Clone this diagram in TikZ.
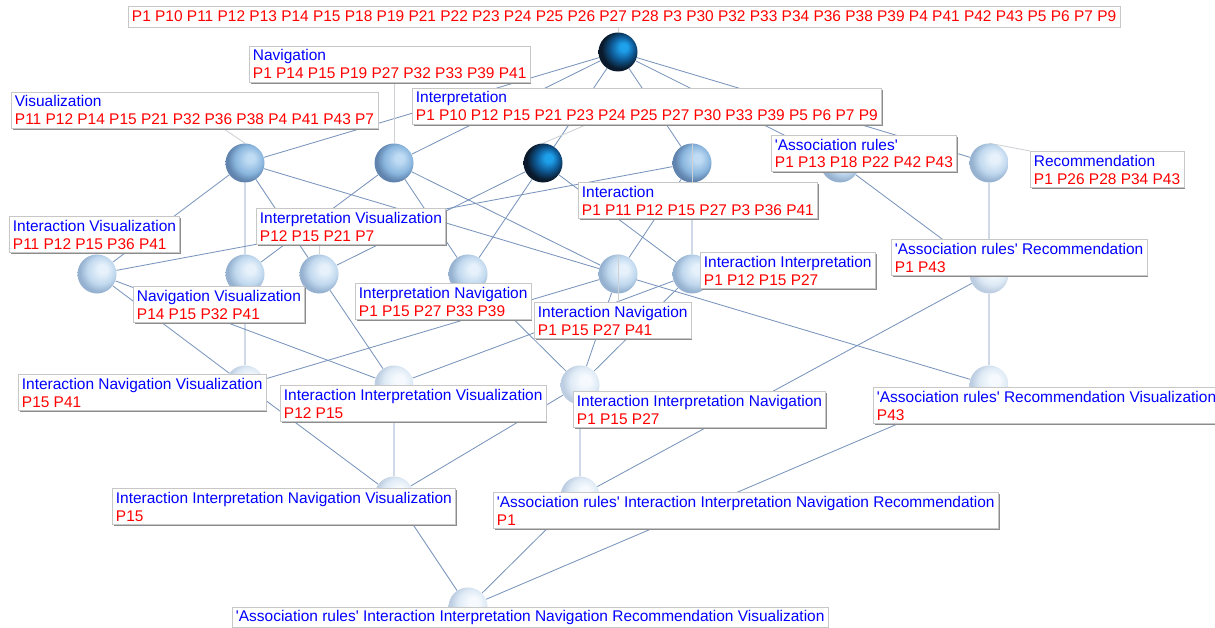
\documentclass[tikz,border=0pt]{standalone}
\usepackage{fontspec}
\setmainfont{Liberation Sans}
\usepackage{tikz}
\usetikzlibrary{positioning,calc,backgrounds,shadows}
\definecolor{attrBlue}{RGB}{0,0,255}
\definecolor{objRed}{RGB}{255,0,0}
\definecolor{coverBlue}{RGB}{120,148,188}
\definecolor{leaderGray}{RGB}{205,208,212}
\definecolor{darkHi}{RGB}{30,160,235}
\definecolor{darkBody}{RGB}{14,90,150}
\definecolor{darkRim}{RGB}{10,26,44}
\definecolor{midHi}{RGB}{192,220,244}
\definecolor{midBody}{RGB}{138,182,222}
\definecolor{midRim}{RGB}{96,132,174}
\definecolor{lightHi}{RGB}{230,241,251}
\definecolor{lightBody}{RGB}{192,216,238}
\definecolor{lightRim}{RGB}{150,178,208}
\definecolor{paleHi}{RGB}{246,250,254}
\definecolor{paleBody}{RGB}{222,234,245}
\definecolor{paleRim}{RGB}{190,206,226}
\pgfdeclareradialshading{shDark}{\pgfpoint{8bp}{7bp}}{color(0bp)=(darkHi); color(5bp)=(darkHi); color(15bp)=(darkBody); color(25bp)=(darkRim); color(50bp)=(darkRim)}
\pgfdeclareradialshading{shMid}{\pgfpoint{8bp}{7bp}}{color(0bp)=(midHi); color(5bp)=(midHi); color(18bp)=(midBody); color(26bp)=(midRim); color(50bp)=(midRim)}
\pgfdeclareradialshading{shLight}{\pgfpoint{8bp}{7bp}}{color(0bp)=(lightHi); color(6bp)=(lightHi); color(18bp)=(lightBody); color(26bp)=(lightRim); color(50bp)=(lightRim)}
\pgfdeclareradialshading{shPale}{\pgfpoint{8bp}{7bp}}{color(0bp)=(paleHi); color(6bp)=(paleHi); color(18bp)=(paleBody); color(26bp)=(paleRim); color(50bp)=(paleRim)}

\begin{document}
\begin{tikzpicture}[x=0.025cm, y=-0.025cm, every node/.style={inner sep=0pt}]
  \def\conc#1#2{\textcolor{attrBlue}{#1}\\\textcolor{objRed}{#2}}
  \def\q{\textquotesingle}

  \tikzset{
    ball/.style={circle, minimum size=0.975cm},
    ballDark/.style={ball, shading=shDark},
    ballMid/.style={ball, shading=shMid},
    ballLight/.style={ball, shading=shLight},
    ballPale/.style={ball, shading=shPale},
    cover/.style={draw=coverBlue, line width=0.6pt},
    leader/.style={draw=leaderGray, line width=0.6pt},
    lbl/.style={draw=black!22, fill=white, anchor=north west, align=left,
      inner xsep=2.6pt, inner ysep=2.5pt, font=\fontsize{11}{12.8}\selectfont,
      drop shadow={shadow xshift=0.9pt, shadow yshift=-0.9pt, fill=black!45, opacity=1}}
  }

  \useasboundingbox (0,0) rectangle (1215,628);

  % top concept
  \node[ballDark] (top) at (618,52) {};

  % single attributes
  \node[ballMid] (nV) at (245,163) {};
  \node[ballMid] (nN) at (394,163) {};
  \node[ballDark] (nP) at (543,163) {};
  \node[ballMid] (nI) at (692,163) {};
  \node[ballLight] (nA) at (840,163) {};
  \node[ballLight] (nR) at (989,163) {};

  % pairs
  \node[ballLight] (nIV) at (97,274) {};
  \node[ballLight] (nNV) at (245,274) {};
  \node[ballLight] (nPV) at (319,274) {};
  \node[ballLight] (nPN) at (468,274) {};
  \node[ballLight] (nIN) at (618,274) {};
  \node[ballLight] (nIP) at (692,274) {};
  \node[ballPale] (nAR) at (989,274) {};

  % triples
  \node[ballPale] (nINV) at (245,385) {};
  \node[ballPale] (nIPV) at (394,385) {};
  \node[ballPale] (nIPN) at (580,385) {};
  \node[ballPale] (nARV) at (989,385) {};

  % four and five attributes
  \node[ballPale] (nIPNV) at (394,496) {};
  \node[ballPale] (nAIPNR) at (580,496) {};

  % bottom concept
  \node[ballPale] (bot) at (468,607) {};

  % lattice edges, behind the balls
  \begin{pgfonlayer}{background}
    \draw[cover] (top) -- (nV) (top) -- (nN) (top) -- (nP) (top) -- (nI) (top) -- (nA) (top) -- (nR);
    \draw[cover] (nV) -- (nIV) (nV) -- (nNV) (nV) -- (nPV) (nV) -- (nARV);
    \draw[cover] (nN) -- (nNV) (nN) -- (nPN) (nN) -- (nIN);
    \draw[cover] (nP) -- (nPV) (nP) -- (nPN) (nP) -- (nIP);
    \draw[cover] (nI) -- (nIV) (nI) -- (nIN) (nI) -- (nIP);
    \draw[cover] (nA) -- (nAR) (nR) -- (nAR);
    \draw[cover] (nIV) -- (nINV) (nIV) -- (nIPV) (nNV) -- (nINV) (nPV) -- (nIPV);
    \draw[cover] (nPN) -- (nIPN) (nIN) -- (nINV) (nIN) -- (nIPN) (nIP) -- (nIPV) (nIP) -- (nIPN);
    \draw[cover] (nAR) -- (nARV) (nAR) -- (nAIPNR);
    \draw[cover] (nINV) -- (nIPNV) (nIPV) -- (nIPNV) (nIPN) -- (nIPNV) (nIPN) -- (nAIPNR);
    \draw[cover] (nIPNV) -- (bot) (nAIPNR) -- (bot) (nARV) -- (bot);
  \end{pgfonlayer}

  % concept labels
  \node[lbl, inner ysep=3.5pt] (lblTop) at (128,6) {\textcolor{objRed}{P1 P10 P11 P12 P13 P14 P15 P18 P19 P21 P22 P23 P24 P25 P26 P27 P28 P3 P30 P32 P33 P34 P36 P38 P39 P4 P41 P42 P43 P5 P6 P7 P9}};
  \node[lbl] (lblN) at (249,46) {\conc{Navigation}{P1 P14 P15 P19 P27 P32 P33 P39 P41}};
  \node[lbl] (lblV) at (11,92) {\conc{Visualization}{P11 P12 P14 P15 P21 P32 P36 P38 P4 P41 P43 P7}};
  \node[lbl] (lblP) at (412,88) {\conc{Interpretation}{P1 P10 P12 P15 P21 P23 P24 P25 P27 P30 P33 P39 P5 P6 P7 P9}};
  \node[lbl] (lblA) at (771,135) {\conc{\q Association rules\q}{P1 P13 P18 P22 P42 P43}};
  \node[lbl] (lblR) at (1030,151) {\conc{Recommendation}{P1 P26 P28 P34 P43}};
  \node[lbl] (lblI) at (578,182) {\conc{Interaction}{P1 P11 P12 P15 P27 P3 P36 P41}};
  \node[lbl] (lblIV) at (9,216) {\conc{Interaction Visualization}{P11 P12 P15 P36 P41}};
  \node[lbl] (lblPV) at (256,208) {\conc{Interpretation Visualization}{P12 P15 P21 P7}};
  \node[lbl] (lblIP) at (700,252) {\conc{Interaction Interpretation}{P1 P12 P15 P27}};
  \node[lbl] (lblAR) at (891,239) {\conc{\q Association rules\q{} Recommendation}{P1 P43}};
  \node[lbl] (lblNV) at (133,286) {\conc{Navigation Visualization}{P14 P15 P32 P41}};
  \node[lbl] (lblPN) at (355,283) {\conc{Interpretation Navigation}{P1 P15 P27 P33 P39}};
  \node[lbl] (lblIN) at (534,302) {\conc{Interaction Navigation}{P1 P15 P27 P41}};
  \node[lbl] (lblINV) at (18,374) {\conc{Interaction Navigation Visualization}{P15 P41}};
  \node[lbl] (lblIPV) at (280,385) {\conc{Interaction Interpretation Visualization}{P12 P15}};
  \node[lbl] (lblIPN) at (573,391) {\conc{Interaction Interpretation Navigation}{P1 P15 P27}};
  \node[lbl] (lblARV) at (873,387) {\conc{\q Association rules\q{} Recommendation Visualization}{P43}};
  \node[lbl] (lblIPNV) at (112,488) {\conc{Interaction Interpretation Navigation Visualization}{P15}};
  \node[lbl] (lblAIPNR) at (493,492) {\conc{\q Association rules\q{} Interaction Interpretation Navigation Recommendation}{P1}};
  \node[lbl, inner ysep=2.1pt] (lblBot) at (232,607) {\textcolor{attrBlue}{\q Association rules\q{} Interaction Interpretation Navigation Recommendation Visualization}};

  % leaders from balls to their labels
  \begin{pgfonlayer}{background}
    \draw[leader] (top.north) -- (top |- lblTop.south);
    \draw[leader] (nV.north) -- ($(lblV.south west)!0.58!(lblV.south east)$);
    \draw[leader] (nN.north) -- (nN |- lblN.south);
    \draw[leader] (nP.north) -- ($(lblP.south west)!0.37!(lblP.south east)$);
    \draw[leader] (nR.north) -- (lblR.north west);
    \draw[leader] (nPV.north) -- (nPV |- lblPV.south);
  \end{pgfonlayer}
  \draw[leader] (nI.north) -- (nI |- lblI.north);
  \draw[leader] (nIN.north) -- (nIN |- lblIN.north);

\end{tikzpicture}
\end{document}
